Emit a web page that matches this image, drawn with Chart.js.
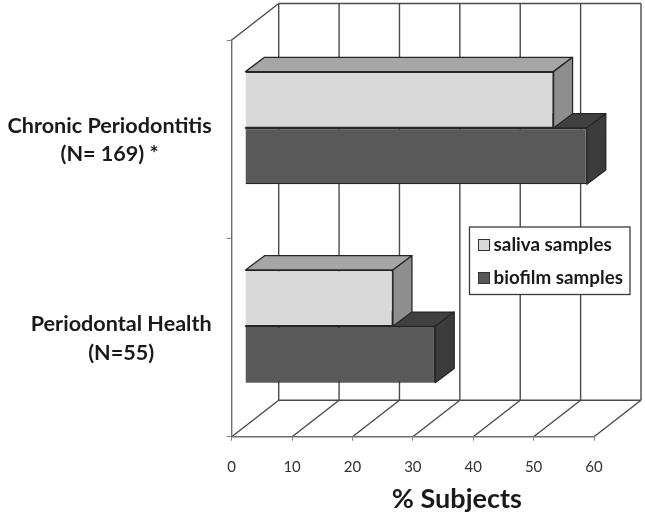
<!DOCTYPE html>
<html>
<head>
<meta charset="utf-8">
<script src="https://cdn.jsdelivr.net/npm/chart.js@4"></script>
<style>html,body{margin:0;padding:0;background:#fff}canvas{display:block}</style>
</head>
<body>
<canvas id="c" width="645" height="517"></canvas>
<script>
const categories = [["Chronic Periodontitis", "(N= 169) *"], ["Periodontal Health", "(N=55)"]];
const salivaValues = [51.1, 24.5];
const biofilmValues = [56.6, 31.5];
const seriesNames = ["saliva samples", "biofilm samples"];
const axisTitle = "% Subjects";

const FACE = ["#d9d9d9", "#595959"], TOP = ["#a6a6a6", "#404040"], SIDE = ["#8e8e8e", "#3c3c3c"];
const WALL_DX = 47, WALL_DY = -36.5, BAR_DX = 13.3, BAR_DY = -11.2, BAR_DEPTH_X = 19, BAR_DEPTH_Y = -14.3;
const LINE = "#4a4a4a";
const PLOT_TOP = 40, PLOT_BOTTOM = 436.7;

function seg(ctx, x1, y1, x2, y2) { ctx.beginPath(); ctx.moveTo(x1, y1); ctx.lineTo(x2, y2); ctx.stroke(); }
function poly(ctx, pts, fill) {
  ctx.beginPath(); pts.forEach((p, i) => i ? ctx.lineTo(p[0], p[1]) : ctx.moveTo(p[0], p[1])); ctx.closePath();
  ctx.fillStyle = fill; ctx.fill(); ctx.stroke();
}

const box3d = {
  id: "box3d",
  afterLayout(chart) {
    const l = chart.legend;
    Object.assign(l, { left: 463, right: 640, top: 221, bottom: 340, width: 177, height: 119 });
    // pin the plot's vertical extent
    const y = chart.scales.y, a = chart.chartArea;
    Object.assign(y, { top: PLOT_TOP, bottom: PLOT_BOTTOM, height: PLOT_BOTTOM - PLOT_TOP, paddingTop: 0, paddingBottom: 0 });
    y.configure();
    a.top = PLOT_TOP; a.bottom = PLOT_BOTTOM; a.height = PLOT_BOTTOM - PLOT_TOP;
  },
  beforeDraw(chart) {
    const ctx = chart.ctx, x = chart.scales.x, a = chart.chartArea;
    ctx.save();
    ctx.strokeStyle = LINE; ctx.lineWidth = 1.4;
    const backR = a.right + WALL_DX, backL = a.left + WALL_DX, backT = a.top + WALL_DY, backB = a.bottom + WALL_DY;
    seg(ctx, a.left, a.top, backL, backT);
    seg(ctx, backL, backT, backR, backT);
    seg(ctx, backL, backB, backR, backB);
    x.ticks.forEach(t => {
      const p = x.getPixelForValue(t.value);
      seg(ctx, p + WALL_DX, backT, p + WALL_DX, backB);
      seg(ctx, p, a.bottom, p + WALL_DX, backB);
    });
    // legend frame and swatches
    ctx.fillStyle = "#fff"; ctx.strokeStyle = "#3a3a3a"; ctx.lineWidth = 1.3;
    ctx.fillRect(469.5, 227, 160.5, 67.5); ctx.strokeRect(469.5, 227, 160.5, 67.5);
    ctx.strokeStyle = "#333"; ctx.lineWidth = 1;
    [[478.5, 239.5], [478.5, 272.5]].forEach((s, i) => {
      ctx.fillStyle = FACE[i]; ctx.fillRect(s[0], s[1], 11, 11); ctx.strokeRect(s[0], s[1], 11, 11);
    });
    ctx.restore();
  },
  beforeDatasetsDraw(chart) {
    const ctx = chart.ctx;
    ctx.save();
    ctx.translate(BAR_DX, BAR_DY);
    ctx.strokeStyle = "#262626"; ctx.lineWidth = 1.3; ctx.lineJoin = "round";
    [1, 0].forEach(ds => {
      chart.getDatasetMeta(ds).data.forEach(b => {
        const t = b.y - b.height / 2, bt = b.y + b.height / 2, r = b.x, l = b.base;
        poly(ctx, [[l, t], [l + BAR_DEPTH_X, t + BAR_DEPTH_Y], [r + BAR_DEPTH_X, t + BAR_DEPTH_Y], [r, t]], TOP[ds]);
        poly(ctx, [[r, t], [r + BAR_DEPTH_X, t + BAR_DEPTH_Y], [r + BAR_DEPTH_X, bt + BAR_DEPTH_Y], [r, bt]], SIDE[ds]);
      });
    });
  },
  afterDatasetsDraw(chart) { chart.ctx.restore(); }
};

const barShape = { barPercentage: 1, categoryPercentage: 0.568, borderColor: "#262626", borderWidth: 1.3, clip: false };

new Chart(document.getElementById("c"), {
  type: "bar",
  plugins: [box3d],
  data: {
    labels: categories,
    datasets: [
      Object.assign({ label: seriesNames[0], data: salivaValues, backgroundColor: FACE[0] }, barShape),
      Object.assign({ label: seriesNames[1], data: biofilmValues, backgroundColor: FACE[1] }, barShape)
    ]
  },
  options: {
    indexAxis: "y",
    responsive: false,
    animation: false,
    events: [],
    layout: { autoPadding: false, padding: { top: 40, right: 51, left: 0, bottom: 0 } },
    plugins: {
      tooltip: { enabled: false },
      legend: {
        position: "chartArea",
        align: "start",
        labels: {
          boxWidth: 7, boxHeight: 11, padding: 14.2, color: "#1a1a1a",
          font: { family: "Lato", weight: "bold", size: 18.8 },
          generateLabels(chart) {
            return Chart.defaults.plugins.legend.labels.generateLabels(chart)
              .map(i => Object.assign(i, { fillStyle: "rgba(0,0,0,0)", strokeStyle: "rgba(0,0,0,0)", lineWidth: 0 }));
          }
        }
      }
    },
    scales: {
      x: {
        type: "linear", min: 0, max: 60,
        ticks: { stepSize: 10, padding: 17, color: "#333", font: { family: "Lato", size: 15 }, maxRotation: 0 },
        grid: { drawOnChartArea: false, drawTicks: true, tickLength: 4, color: "#808080" },
        border: { display: true, color: "#6e6e6e", width: 1.4 },
        title: {
          display: true, text: axisTitle, color: "#1a1a1a",
          font: { family: "Lato", weight: "bold", size: 27 },
          padding: { top: 0, bottom: 2 }
        },
        afterFit(s) {
          s.height = 80.3;
          if (!s._shifted) {
            const orig = s.drawTitle;
            s.drawTitle = function () { const c = this.ctx; c.save(); c.translate(44, 0); orig.call(this); c.restore(); };
            s._shifted = true;
          }
        }
      },
      y: {
        type: "category",
        ticks: {
          crossAlign: "center", autoSkip: false, maxRotation: 0, padding: 15, color: "#1a1a1a",
          font: { family: "Lato", weight: "bold", size: 21.6, lineHeight: 1.3 }
        },
        grid: { drawOnChartArea: false, drawTicks: true, tickLength: 5, color: "#808080" },
        border: { display: true, color: "#6e6e6e", width: 1.4 },
        afterFit(s) {
          s.width = 231.7;
          if (!s._rightSet) {
            // each two-line label is centred on itself, with its widest line ending at the same right edge
            const orig = s._computeLabelItems;
            s._computeLabelItems = function (area) {
              const items = orig.call(this, area), sizes = this._getLabelSizes();
              items.forEach((it, i) => {
                it.options.translation[0] += (sizes.widest.width - sizes.widths[i]) / 2;
                it.options.translation[1] += 1;
              });
              return items;
            };
            s._rightSet = true;
          }
        }
      }
    }
  }
});
</script>
</body>
</html>
